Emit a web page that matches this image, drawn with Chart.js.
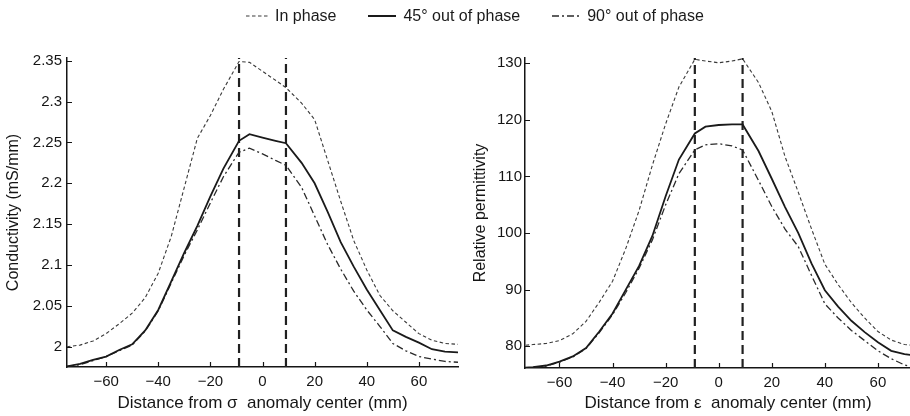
<!DOCTYPE html>
<html>
<head>
<meta charset="utf-8">
<script src="https://cdn.jsdelivr.net/npm/chart.js@4.4.1/dist/chart.umd.min.js"></script>
<style>
  html, body { margin: 0; padding: 0; background: #fff; }
  #wrap { position: relative; width: 910px; height: 416px; overflow: hidden;
          font-family: 'Liberation Sans', Arial, sans-serif; color: #1a1a1a; }
  #legend { position: absolute; top: 7px; left: 40px; width: 870px; display: flex;
            justify-content: center; align-items: center; font-size: 16px; z-index: 2; }
  #legend .item { display: flex; align-items: center; margin: 0 16px; }
  #legend svg { margin-right: 7px; }
  .panel { position: absolute; top: 0; height: 416px; }
</style>
</head>
<body>
<div id="wrap">
  <div id="legend">
    <div class="item">
      <svg width="22" height="8"><line x1="0" y1="4" x2="22" y2="4" stroke="#3a3a3a" stroke-width="1.1" stroke-dasharray="3.5 2.5"/></svg>
      <span>In phase</span>
    </div>
    <div class="item">
      <svg width="28" height="8"><line x1="0" y1="4" x2="28" y2="4" stroke="#1a1a1a" stroke-width="2"/></svg>
      <span>45° out of phase</span>
    </div>
    <div class="item">
      <svg width="28" height="8"><line x1="0" y1="4" x2="28" y2="4" stroke="#2a2a2a" stroke-width="1.4" stroke-dasharray="7 3 2 3"/></svg>
      <span>90° out of phase</span>
    </div>
  </div>
  <div class="panel" style="left:0;width:460px"><canvas id="sigmaChart" width="460" height="416"></canvas></div>
  <div class="panel" style="left:460px;width:472px"><canvas id="epsChart" width="472" height="416"></canvas></div>
</div>
<script>
// distance from anomaly center (mm), shared by both panels
var distance = [-75, -70, -65, -60, -55, -50, -45, -40, -35, -30, -25, -20, -15, -9, -5, 0,
                5, 9, 15, 20, 25, 30, 35, 40, 45, 50, 55, 60, 65, 70, 75];

// conductivity (mS/mm)
var sigmaInPhase = [2.000, 2.002, 2.007, 2.016, 2.028, 2.041, 2.060, 2.090, 2.135, 2.195, 2.255, 2.283, 2.315, 2.349, 2.348, 2.337,
                    2.326, 2.317, 2.298, 2.278, 2.228, 2.178, 2.130, 2.094, 2.063, 2.044, 2.030, 2.016, 2.008, 2.004, 2.003];
var sigma45 = [1.976, 1.979, 1.984, 1.988, 1.996, 2.003, 2.020, 2.045, 2.080, 2.115, 2.148, 2.184, 2.218, 2.252, 2.260, 2.256,
               2.252, 2.249, 2.225, 2.200, 2.165, 2.128, 2.098, 2.070, 2.045, 2.020, 2.012, 2.005, 1.997, 1.994, 1.993];
var sigma90 = [1.976, 1.978, 1.983, 1.988, 1.995, 2.002, 2.019, 2.044, 2.078, 2.112, 2.143, 2.176, 2.208, 2.238, 2.243, 2.236,
               2.228, 2.222, 2.195, 2.160, 2.125, 2.095, 2.068, 2.045, 2.025, 2.004, 1.995, 1.988, 1.985, 1.982, 1.981];

// relative permittivity
var epsInPhase = [80.1, 80.3, 80.5, 81.0, 82.2, 84.4, 87.8, 91.5, 97.3, 104.0, 112.0, 119.3, 125.8, 130.7, 130.4, 130.1,
                  130.4, 130.8, 126.6, 121.5, 113.5, 107.2, 100.7, 94.5, 90.9, 87.7, 85.0, 82.6, 81.1, 80.3, 80.1];
var eps45 = [76.2, 76.3, 76.6, 77.3, 78.2, 79.7, 82.6, 85.8, 90.0, 94.2, 99.5, 106.5, 113.0, 117.6, 118.8, 119.1,
             119.2, 119.2, 114.5, 109.6, 104.6, 100.0, 94.6, 89.9, 87.0, 84.5, 82.5, 80.7, 79.2, 78.6, 78.3];
var eps90 = [76.1, 76.2, 76.5, 77.2, 78.1, 79.6, 82.4, 85.6, 89.5, 93.8, 98.8, 105.0, 110.5, 114.7, 115.6, 115.8,
             115.4, 114.7, 109.3, 104.7, 100.7, 97.6, 92.5, 87.5, 85.0, 82.8, 81.0, 79.2, 77.8, 76.7, 76.0];

// edges of the anomaly (mm)
var anomalyEdges = [-9, 9];

var distanceTicks = [-60, -40, -20, 0, 20, 40, 60];
var distanceTickLabels = ['\u221260', '\u221240', '\u221220', '0', '20', '40', '60'];
var sigmaTicks = [2, 2.05, 2.1, 2.15, 2.2, 2.25, 2.3, 2.35];
var sigmaTickLabels = ['2', '2.05', '2.1', '2.15', '2.2', '2.25', '2.3', '2.35'];
var epsTicks = [80, 90, 100, 110, 120, 130];
var epsTickLabels = ['80', '90', '100', '110', '120', '130'];

var FONT = "'Liberation Sans', Arial, sans-serif";
var INK = '#151515';

function toPoints(xs, ys) {
    return xs.map(function(x, i) { return {x: x, y: ys[i]}; });
}

// short tick marks pointing into the plot
var inwardTicks = {
    id: 'inwardTicks',
    afterDatasetsDraw: function(chart) {
        var ctx = chart.ctx;
        var area = chart.chartArea;
        var xs = chart.scales.x;
        var ys = chart.scales.y;
        ctx.save();
        ctx.strokeStyle = INK;
        ctx.lineWidth = 1.2;
        ctx.beginPath();
        xs.ticks.forEach(function(t) {
            var px = Math.round(xs.getPixelForValue(t.value)) + 0.5;
            ctx.moveTo(px, area.bottom);
            ctx.lineTo(px, area.bottom - 5);
        });
        ys.ticks.forEach(function(t) {
            var py = Math.round(ys.getPixelForValue(t.value)) + 0.5;
            ctx.moveTo(area.left, py);
            ctx.lineTo(area.left + 5, py);
        });
        ctx.stroke();
        ctx.restore();
    }
};

function makePanel(id, cfg) {
    var ctx = document.getElementById(id).getContext('2d');
    var series = [
        {data: cfg.inPhase, color: '#3a3a3a', width: 1.1, dash: [3.5, 2.5]},
        {data: cfg.out45, color: '#1a1a1a', width: 1.8, dash: []},
        {data: cfg.out90, color: '#2a2a2a', width: 1.3, dash: [7, 3, 2, 3]}
    ];
    var datasets = series.map(function(s) {
        return {
            data: toPoints(distance, s.data),
            borderColor: s.color,
            borderWidth: s.width,
            borderDash: s.dash,
            pointRadius: 0,
            tension: 0,
            fill: false
        };
    });
    anomalyEdges.forEach(function(edge) {
        datasets.push({
            data: [{x: edge, y: cfg.yMin}, {x: edge, y: cfg.yMax}],
            borderColor: '#202020',
            borderWidth: 2.2,
            borderDash: [9, 5],
            pointRadius: 0,
            fill: false
        });
    });

    return new Chart(ctx, {
        type: 'line',
        data: {datasets: datasets},
        plugins: [inwardTicks],
        options: {
            responsive: false,
            animation: false,
            events: [],
            layout: {padding: {top: 58, right: cfg.padRight, left: 0, bottom: 0}},
            plugins: {legend: {display: false}, tooltip: {enabled: false}},
            scales: {
                x: {
                    type: 'linear',
                    min: cfg.xMin,
                    max: cfg.xMax,
                    afterBuildTicks: function(scale) {
                        scale.ticks = distanceTicks.map(function(v) { return {value: v}; });
                    },
                    afterFit: function(scale) { scale.height = cfg.xAxisHeight; },
                    grid: {display: false, drawTicks: false},
                    border: {display: true, color: INK, width: 1.5},
                    ticks: {
                        color: INK,
                        padding: 6,
                        maxRotation: 0,
                        font: {family: FONT, size: 15},
                        callback: function(value, index) { return distanceTickLabels[index]; }
                    },
                    title: {
                        display: true,
                        text: cfg.xTitle,
                        color: INK,
                        font: {family: FONT, size: 17},
                        padding: {top: 0, bottom: 2}
                    }
                },
                y: {
                    type: 'linear',
                    min: cfg.yMin,
                    max: cfg.yMax,
                    afterBuildTicks: function(scale) {
                        scale.ticks = cfg.yTicks.map(function(v) { return {value: v}; });
                    },
                    afterFit: function(scale) { scale.width = cfg.yAxisWidth; },
                    grid: {display: false, drawTicks: false},
                    border: {display: true, color: INK, width: 1.5},
                    ticks: {
                        color: INK,
                        padding: cfg.yTickPad,
                        font: {family: FONT, size: 15},
                        callback: function(value, index) { return cfg.yTickLabels[index]; }
                    },
                    title: {
                        display: true,
                        text: cfg.yTitle,
                        color: INK,
                        font: {family: FONT, size: 16},
                        padding: {top: cfg.yTitlePad, bottom: 0}
                    }
                }
            }
        }
    });
}

makePanel('sigmaChart', {
    inPhase: sigmaInPhase, out45: sigma45, out90: sigma90,
    xMin: -75, xMax: 75, yMin: 1.9752, yMax: 2.3533,
    yTicks: sigmaTicks, yTickLabels: sigmaTickLabels,
    xTitle: 'Distance from \u03c3  anomaly center (mm)',
    yTitle: 'Conductivity (mS/mm)',
    yAxisWidth: 67, xAxisHeight: 49, padRight: 2, yTickPad: 5, yTitlePad: 4
});

// this panel's axis runs on past the right edge of the page
makePanel('epsChart', {
    inPhase: epsInPhase, out45: eps45, out90: eps90,
    xMin: -73, xMax: 80, yMin: 76.16, yMax: 130.94,
    yTicks: epsTicks, yTickLabels: epsTickLabels,
    xTitle: 'Distance from \u03b5  anomaly center (mm)',
    yTitle: 'Relative permittivity',
    yAxisWidth: 65, xAxisHeight: 48, padRight: 1, yTickPad: 3, yTitlePad: 11
});
</script>
</body>
</html>
